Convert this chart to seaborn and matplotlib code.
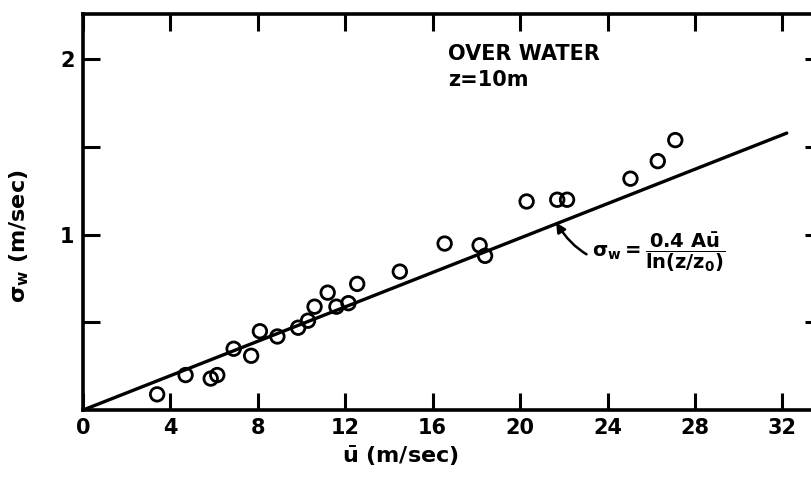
import matplotlib
matplotlib.use("Agg")
import matplotlib.pyplot as plt
import seaborn as sns
import pandas as pd

u_obs = [3.4, 4.7, 5.85, 6.15, 6.9, 7.7, 8.1, 8.9, 9.85, 10.3, 10.6, 11.2,
         11.6, 12.15, 12.55, 14.5, 16.55, 18.15, 18.4, 20.3, 21.7, 22.15,
         25.05, 26.3, 27.1]
sigma_obs = [0.09, 0.20, 0.18, 0.20, 0.35, 0.31, 0.45, 0.42, 0.47, 0.51,
             0.59, 0.67, 0.59, 0.61, 0.72, 0.79, 0.95, 0.94, 0.88, 1.19,
             1.20, 1.20, 1.32, 1.42, 1.54]

# fitted relation sigma_w = 0.4 A u / ln(z/z0)
u_fit = [0.0, 32.2]
sigma_fit = [0.0, 1.58]

x_ticks = [0, 4, 8, 12, 16, 20, 24, 28, 32]
y_major = [1, 2]
y_minor = [0.5, 1.5]

obs = pd.DataFrame({"u": u_obs, "sigma": sigma_obs})
fit = pd.DataFrame({"u": u_fit, "sigma": sigma_fit})

sns.set_style("ticks", {"axes.edgecolor": "black", "text.color": "black",
                        "xtick.color": "black", "ytick.color": "black",
                        "axes.labelcolor": "black"})
plt.rcParams["font.family"] = ["DejaVu Sans"]
plt.rcParams["font.weight"] = "bold"
plt.rcParams["mathtext.fontset"] = "dejavusans"
plt.rcParams["mathtext.default"] = "bf"

fig = plt.figure(figsize=(8.12, 4.78), dpi=100)
ax = fig.add_axes([0.102, 0.142, 0.91, 0.829])

sns.lineplot(data=fit, x="u", y="sigma", color="black", linewidth=2.4, ax=ax)
sns.scatterplot(data=obs, x="u", y="sigma", marker="o", s=95,
                facecolor="none", edgecolor="black", linewidth=2.0, ax=ax,
                zorder=3)

ax.set_xlim(0, 33.8)
ax.set_ylim(0, 2.26)
ax.set_xticks(x_ticks)
ax.set_xticklabels([str(t) for t in x_ticks])
ax.set_yticks(y_major)
ax.set_yticklabels([str(t) for t in y_major])
ax.set_yticks(y_minor, minor=True)

ax.tick_params(axis="both", which="both", direction="in", length=12,
               width=2.2, top=True, right=True, labelsize=15, pad=6,
               colors="black")
for sp in ax.spines.values():
    sp.set_linewidth(2.6)
    sp.set_color("black")
ax.spines["right"].set_visible(False)

ax.set_xlabel(r"$\bar{\mathbf{u}}$ (m/sec)", fontsize=16, fontweight="bold",
              color="black")
ax.set_ylabel(r"$\sigma_\mathbf{w}$ (m/sec)", fontsize=16, fontweight="bold",
              color="black")
ax.xaxis.set_label_coords(0.43, -0.085)
ax.yaxis.set_label_coords(-0.07, 0.44)

ax.text(16.7, 2.03, "OVER WATER", fontsize=15, fontweight="bold",
        va="center", ha="left", color="black")
ax.text(16.7, 1.88, "z=10m", fontsize=15, fontweight="bold",
        va="center", ha="left", color="black")

ax.annotate(r"$\sigma_w = \dfrac{0.4\ A\bar{u}}{\ln(z/z_0)}$",
            xy=(21.65, 1.07), xytext=(23.3, 0.9),
            fontsize=14, va="center", ha="left", color="black",
            arrowprops=dict(arrowstyle="-|>", color="black", linewidth=1.8,
                            connectionstyle="arc3,rad=-0.45",
                            shrinkA=2, shrinkB=0, mutation_scale=14))

fig.savefig("out.png", dpi=100)
